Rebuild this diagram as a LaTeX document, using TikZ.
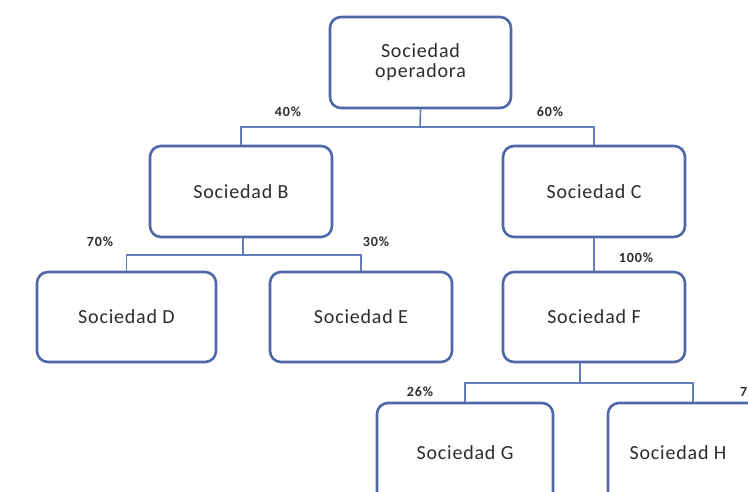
\documentclass[tikz,border=0pt]{standalone}
\usepackage{fontspec}
\setmainfont{Carlito}
\newfontfamily\boxfont[LetterSpace=4]{Carlito}
\newfontfamily\pctfont[LetterSpace=6]{Carlito}
\definecolor{boxline}{RGB}{78,104,168}
\definecolor{conline}{RGB}{100,125,185}
\definecolor{txt}{RGB}{45,45,45}
\tikzset{
  soc/.style={draw=boxline, line width=2.6pt, rounded corners=11pt, fill=white,
    minimum width=182pt, minimum height=91pt, inner sep=0pt, align=center,
    text=txt, font=\boxfont\fontsize{20}{20}\selectfont},
  con/.style={draw=conline, line width=1.6pt},
  pct/.style={text=txt, font=\pctfont\bfseries\fontsize{14}{16}\selectfont, inner sep=0pt}
}
\begin{document}
\begin{tikzpicture}[x=1pt,y=-1pt]
\useasboundingbox (0,0) rectangle (748,491);
\clip (0,0) rectangle (748,491);
\fill[white] (0,0) rectangle (748,491);
% junctions
\coordinate (j1) at (420,127);
\coordinate (j2) at (243,255);
\coordinate (j3) at (580,383);
% boxes
\node[soc, minimum width=181pt] (op) at (420.5,62.5) {Sociedad\\operadora};
\node[soc] (B) at (241,191.5) {Sociedad B};
\node[soc] (C) at (594,191.5) {Sociedad C};
\node[soc, minimum width=179pt, minimum height=90pt] (D) at (126.5,317) {Sociedad D};
\node[soc, minimum height=90pt] (E) at (361,317) {Sociedad E};
\node[soc, minimum height=90pt] (F) at (594,317) {Sociedad F};
\node[soc, minimum width=176pt, minimum height=100pt] (G) at (465,453) {Sociedad G};
\node[soc, minimum width=170pt, minimum height=100pt] (H) at (693,453) {Sociedad H\hspace*{30pt}};
% connectors
\draw[con] (op.south) -- (j1);
\draw[con] (B.north) |- (j1) -| (C.north);
\draw[con] (B.south -| j2) -- (j2);
\draw[con] (D.north) |- (j2) -| (E.north);
\draw[con] (C.south) -- (F.north);
\draw[con] (F.south -| j3) -- (j3);
\draw[con] (G.north) |- (j3) -| (H.north);
% labels
\node[pct] (l40) at (288,112) {40\%};
\node[pct] (l60) at (550,112) {60\%};
\node[pct] (l70) at (100,242) {70\%};
\node[pct] (l30) at (376,242) {30\%};
\node[pct] (l100) at (636,258) {100\%};
\node[pct] (l26) at (420,392) {26\%};
\node[pct, anchor=west] (l74) at (740,392) {74\%};
\end{tikzpicture}
\end{document}
